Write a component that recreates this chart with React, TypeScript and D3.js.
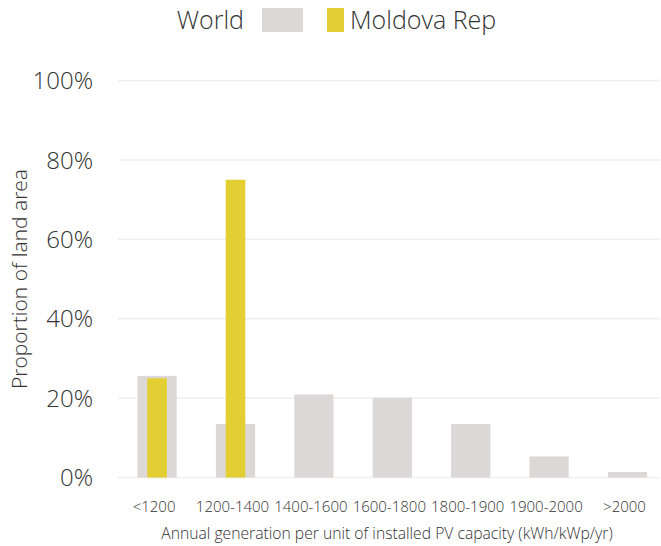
import React from "react";
import * as d3 from "d3";

const categories = ["<1200", "1200-1400", "1400-1600", "1600-1800", "1800-1900", "1900-2000", ">2000"];
const worldValues = [25.6, 13.5, 20.9, 20.1, 13.5, 5.3, 1.4];
const moldovaValues = [25, 75, 0, 0, 0, 0, 0];
const yTicks = [0, 20, 40, 60, 80, 100];
const seriesNames = ["World", "Moldova Rep"];

const W = 661;
const H = 546;
const FONT = "'Open Sans', Lato, sans-serif";
const GREY = "#ddd8d8";
const YELLOW = "#e3cf33";

export default function App() {
  const x = d3.scaleBand<string>().domain(categories).range([117.9, 666.7]).paddingInner(0.5).paddingOuter(0.25);
  const y = d3.scaleLinear().domain([0, 100]).range([477.5, 80.5]);
  const bw = x.bandwidth();
  return (
    <svg width={W} height={H} style={{ position: "absolute", left: 0, top: 0 }}>
      <rect width={W} height={H} fill="#fff" />
      {yTicks.map((t) => (
        <g key={t}>
          <line x1={118} x2={660} y1={y(t)} y2={y(t)} stroke="#efefef" strokeWidth={1.5} />
          <text x={93} y={y(t)} dy="0.36em" textAnchor="end" fontFamily={FONT} fontWeight={300} fontSize={24} fill="#333">
            {t}%
          </text>
        </g>
      ))}
      {categories.map((c, i) => (
        <rect key={"w" + c} x={x(c)} y={y(worldValues[i])} width={bw} height={y(0) - y(worldValues[i])} fill={GREY} />
      ))}
      {categories.map((c, i) =>
        moldovaValues[i] > 0 ? (
          <rect key={"m" + c} x={(x(c) as number) + bw / 4} y={y(moldovaValues[i])} width={bw / 2} height={y(0) - y(moldovaValues[i])} fill={YELLOW} />
        ) : null
      )}
      {categories.map((c) => (
        <text key={"t" + c} x={(x(c) as number) + bw / 2 - 3} y={507} dy="0.36em" textAnchor="middle" fontFamily={FONT} fontWeight={300} fontSize={15} fill="#333">
          {c}
        </text>
      ))}
      <text x={387} y={533} dy="0.36em" textAnchor="middle" fontFamily={FONT} fontWeight={300} fontSize={15.7} fill="#333">
        Annual generation per unit of installed PV capacity (kWh/kWp/yr)
      </text>
      <text transform={`translate(19,${(y(0) + y(100)) / 2}) rotate(-90)`} textAnchor="middle" dy="0.36em" fontFamily={FONT} fontWeight={300} fontSize={21} fill="#333">
        Proportion of land area
      </text>
      <text x={244} y={20} dy="0.36em" textAnchor="end" fontFamily={FONT} fontWeight={300} fontSize={25} fill="#333">
        {seriesNames[0]}
      </text>
      <rect x={262} y={8} width={41} height={24} fill={GREY} />
      <rect x={327} y={8} width={17} height={24} fill={YELLOW} />
      <text x={350} y={20} dy="0.36em" fontFamily={FONT} fontWeight={300} fontSize={25} fill="#333">
        {seriesNames[1]}
      </text>
    </svg>
  );
}
